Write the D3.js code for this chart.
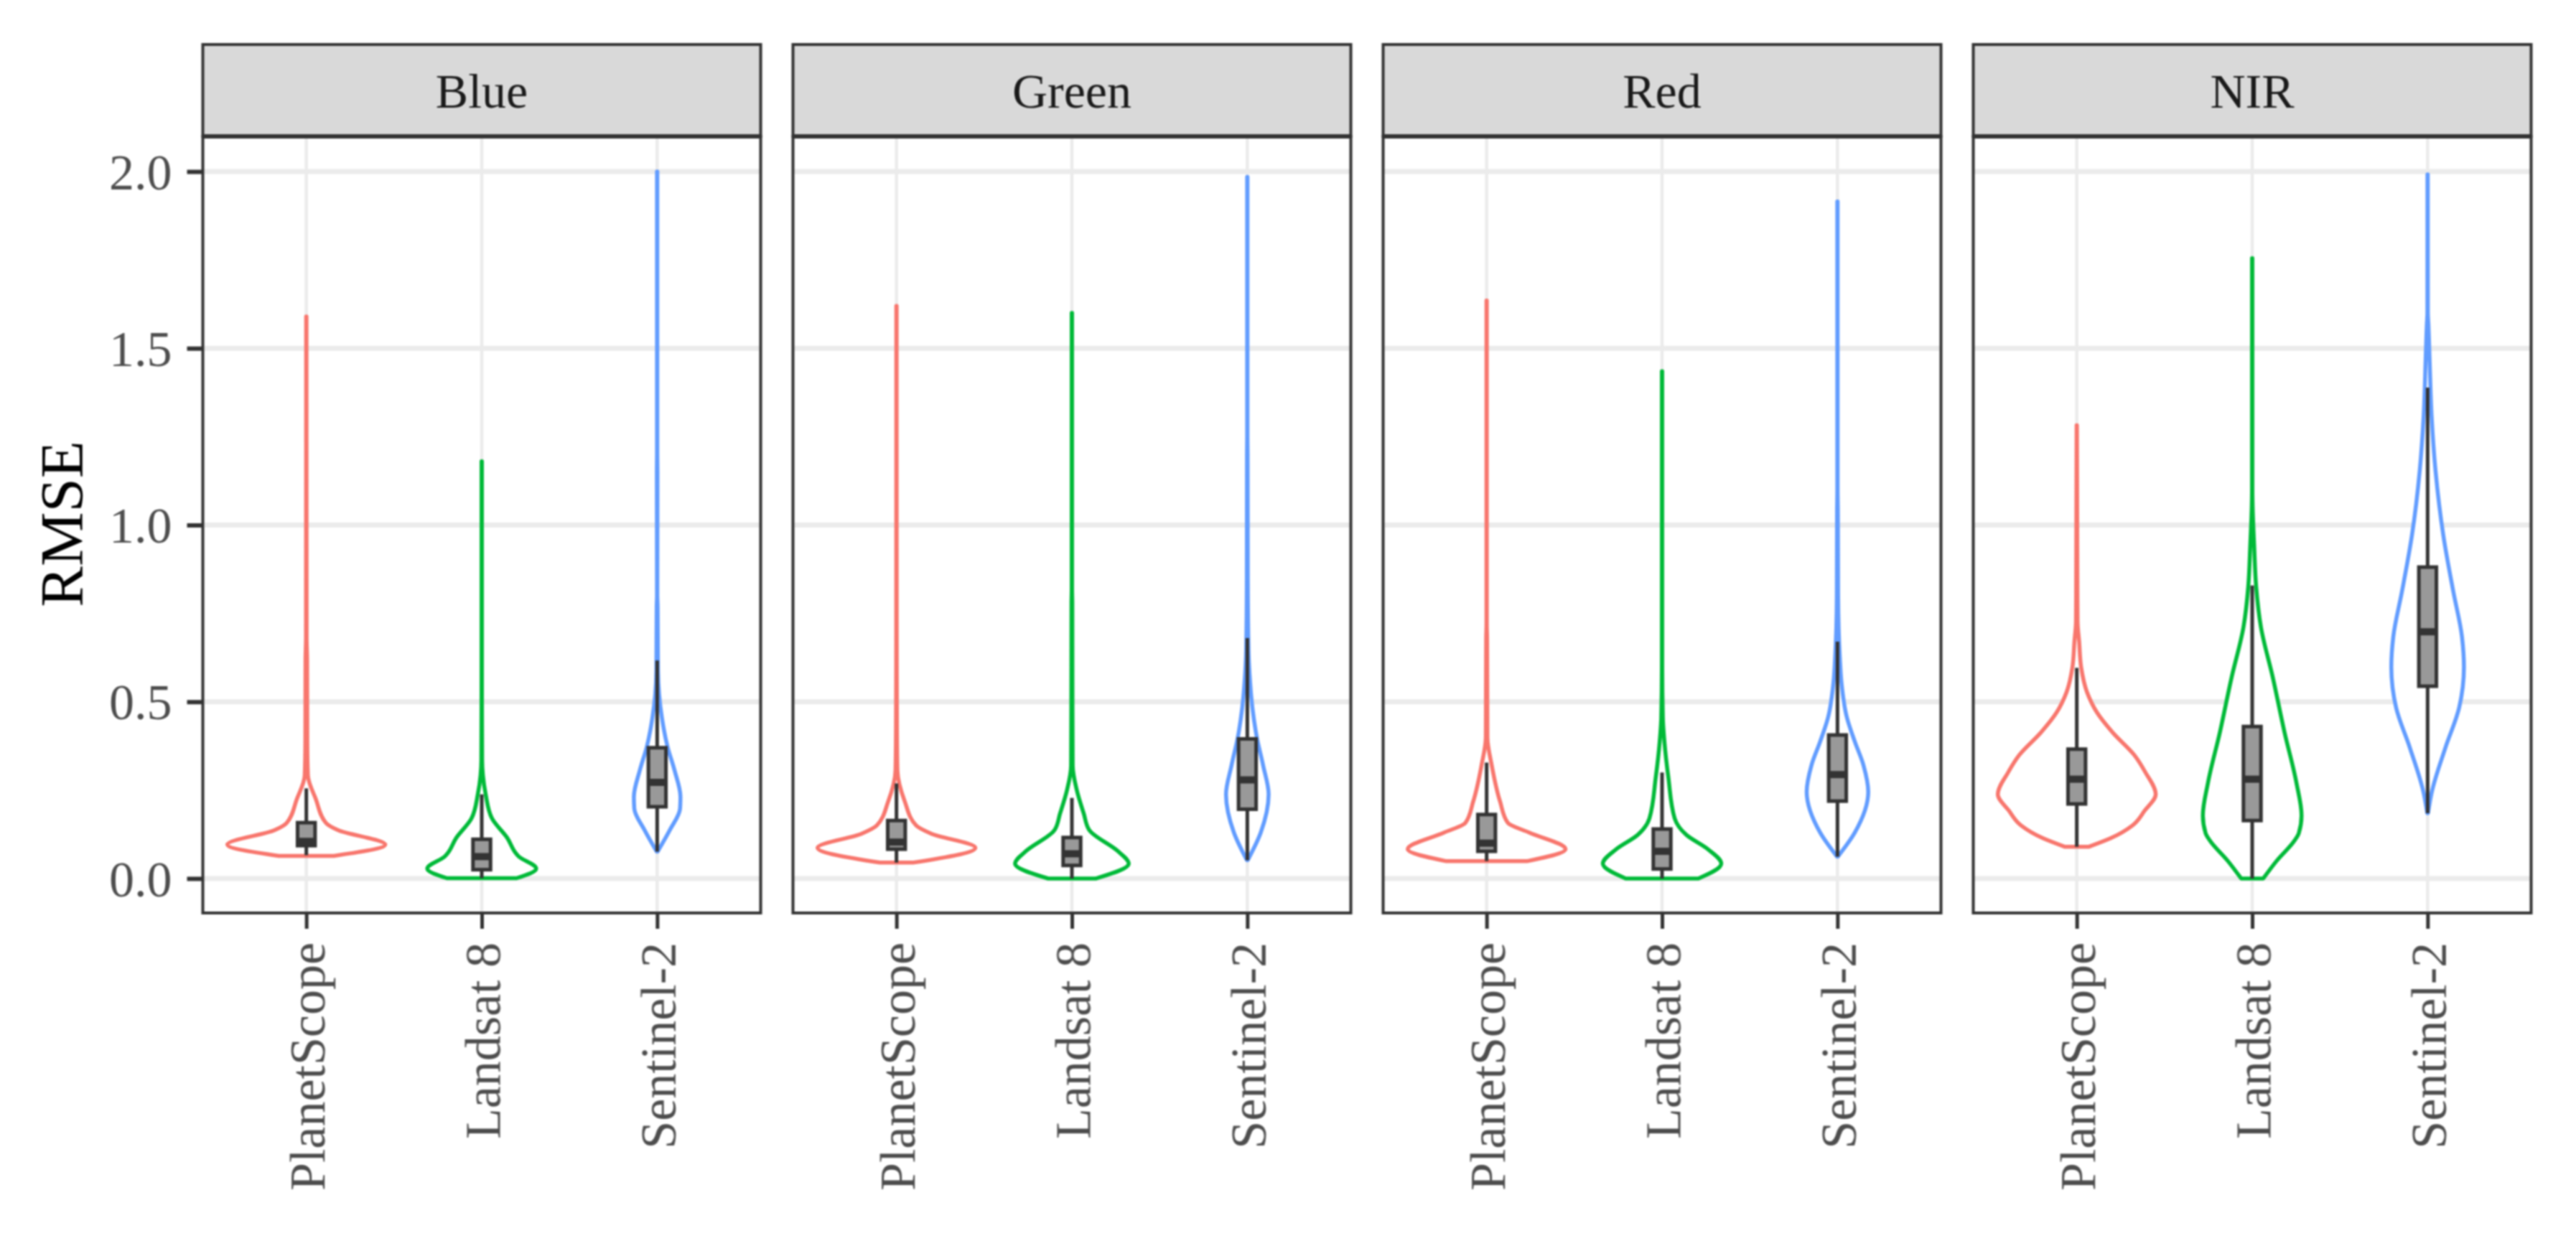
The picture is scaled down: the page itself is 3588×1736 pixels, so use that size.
<!DOCTYPE html>
<html lang="en">
<head>
    <meta charset="UTF-8">
    <title>RMSE violins</title>
    <script src="https://d3js.org/d3.v7.min.js"></script>
    <style>
        body { margin: 0; padding: 0; background: #fff; }
        svg { filter: blur(0.9px); }
        text { font-family: "Liberation Serif", serif; }
        .tick-label { fill: #4d4d4d; font-size: 70px; }
    </style>
</head>
<body>
<svg width="3588" height="1736"></svg>
<script>
    var bands = ['Blue', 'Green', 'Red', 'NIR'];
    var sensors = ['PlanetScope', 'Landsat 8', 'Sentinel-2'];
    var yTicks = [0, 0.5, 1, 1.5, 2];
    var colors = ['#F8766D', '#00BA38', '#619CFF'];

    // violin outlines: [rmse, relative density]
    var bluePlanet = [[.064,.35],[.096,1],[.137,.4],[.157,.25],[.225,.12],[.292,.02],[.39,.012],[.62,.01],[.68,.004],[1.59,.002]];
    var blueLandsat = [[.001,.44],[.028,.69],[.062,.47],[.116,.32],[.17,.13],[.238,.05],[.292,.015],[.333,.005],[.6,.002],[1.18,.002]];
    var blueSentinel = [[.076,.005],[.137,.16],[.198,.29],[.231,.295],[.306,.22],[.374,.13],[.455,.06],[.52,.025],[.59,.01],[.77,.006],[.8,.002],[1.15,.004],[1.2,.002],[2,.002]];

    var greenPlanet = [[.045,.21],[.087,1],[.127,.44],[.15,.25],[.218,.105],[.306,.012],[.42,.006],[.7,.003],[1.62,.002]];
    var greenLandsat = [[0,.3],[.042,.72],[.076,.59],[.137,.22],[.184,.15],[.252,.06],[.32,.01],[.6,.006],[.78,.005],[.82,.002],[1.6,.002]];
    var greenSentinel = [[.052,.005],[.13,.17],[.238,.27],[.32,.2],[.4,.12],[.482,.065],[.556,.035],[.644,.015],[.85,.006],[1.2,.004],[1.25,.002],[1.985,.002]];

    var redPlanet = [[.049,.51],[.083,1],[.13,.54],[.157,.27],[.218,.17],[.32,.065],[.4,.01],[.68,.006],[.72,.002],[1.635,.002]];
    var redLandsat = [[0,.46],[.042,.75],[.083,.58],[.123,.31],[.17,.16],[.286,.08],[.387,.03],[.455,.01],[.6,.002],[1.435,.002]];
    var redSentinel = [[.062,.005],[.13,.22],[.245,.39],[.32,.33],[.387,.22],[.455,.12],[.556,.05],[.624,.03],[.8,.008],[1.04,.005],[1.1,.002],[1.915,.002]];

    var nirPlanet = [[.09,.155],[.114,.43],[.15,.705],[.192,.86],[.238,1],[.3,.87],[.349,.73],[.413,.455],[.47,.255],[.527,.13],[.598,.055],[.67,.03],[.727,.01],[.8,.008],[1.282,.002]];
    var nirLandsat = [[0,.14],[.05,.31],[.107,.535],[.128,.59],[.178,.625],[.271,.56],[.413,.41],[.57,.26],[.712,.11],[.826,.05],[.94,.025],[1.054,.005],[1.1,.002],[1.755,.002]];
    var nirSentinel = [[.185,.005],[.242,.05],[.37,.225],[.484,.4],[.598,.46],[.684,.435],[.812,.325],[.969,.2],[1.154,.1],[1.31,.05],[1.468,.025],[1.567,.01],[1.6,.003],[1.992,.002]];

    // boxes: [whisker low, q1, median, q3, whisker high]
    var blueBoxes = [[.066,.093,.105,.158,.255],[.001,.025,.062,.111,.238],[.076,.203,.272,.37,.617]];
    var greenBoxes = [[.045,.083,.103,.164,.269],[0,.037,.07,.116,.228],[.052,.196,.279,.395,.68]];
    var redBoxes = [[.049,.077,.1,.181,.328],[0,.027,.077,.14,.3],[.062,.219,.294,.406,.67]];
    var nirBoxes = [[.09,.211,.281,.366,.596],[0,.164,.281,.43,.829],[.185,.544,.698,.881,1.389]];

    var violins = [
        [bluePlanet, blueLandsat, blueSentinel],
        [greenPlanet, greenLandsat, greenSentinel],
        [redPlanet, redLandsat, redSentinel],
        [nirPlanet, nirLandsat, nirSentinel]
    ];
    var boxes = [blueBoxes, greenBoxes, redBoxes, nirBoxes];

    var panelW = 777, panelStep = 822, panelX0 = 282.5;
    var stripTop = 62, panelTop = 190, panelBottom = 1272;

    var svg = d3.select('svg');

    var y = d3.scaleLinear().domain([0, 2]).range([1224, 239]);
    var x = d3.scalePoint().domain(sensors).range([0, panelW]).padding(0.59);
    var step = x.step();
    // widest violin is 0.45 of a category step each side
    var w = d3.scaleLinear().domain([0, 1]).range([0, step * 0.45]);

    bands.forEach(function (band, b) {
        var g = svg.append('g').attr('transform', 'translate(' + (panelX0 + b * panelStep) + ',0)');

        // grid
        g.selectAll('.hgrid').data(yTicks).enter().append('line')
            .attr('x1', 0).attr('x2', panelW)
            .attr('y1', function (d) { return y(d); })
            .attr('y2', function (d) { return y(d); })
            .style('stroke', '#ebebeb').style('stroke-width', 7);
        g.selectAll('.vgrid').data(sensors).enter().append('line')
            .attr('x1', function (d) { return x(d); })
            .attr('x2', function (d) { return x(d); })
            .attr('y1', panelTop).attr('y2', panelBottom)
            .style('stroke', '#ebebeb').style('stroke-width', 4.5);

        // violins
        sensors.forEach(function (s, i) {
            var area = d3.area()
                .curve(d3.curveMonotoneY)
                .y(function (d) { return y(d[0]); })
                .x0(function (d) { return x(s) - w(d[1]); })
                .x1(function (d) { return x(s) + w(d[1]); });
            g.append('path')
                .attr('d', area(violins[b][i]))
                .style('fill', '#fff')
                .style('stroke', colors[i])
                .style('stroke-width', 5.5)
                .style('stroke-linejoin', 'round');
        });

        // boxplots
        sensors.forEach(function (s, i) {
            var q = boxes[b][i];
            var bw = step * 0.1;
            g.append('line')
                .attr('x1', x(s)).attr('x2', x(s))
                .attr('y1', y(q[0])).attr('y2', y(q[4]))
                .style('stroke', '#333').style('stroke-width', 5);
            g.append('rect')
                .attr('x', x(s) - bw / 2).attr('width', bw)
                .attr('y', y(q[3])).attr('height', y(q[1]) - y(q[3]))
                .style('fill', '#999').style('stroke', '#333').style('stroke-width', 5);
            g.append('line')
                .attr('x1', x(s) - bw / 2).attr('x2', x(s) + bw / 2)
                .attr('y1', y(q[2])).attr('y2', y(q[2]))
                .style('stroke', '#333').style('stroke-width', 10);
        });

        // panel border
        g.append('rect')
            .attr('x', 0).attr('y', panelTop)
            .attr('width', panelW).attr('height', panelBottom - panelTop)
            .style('fill', 'none').style('stroke', '#333').style('stroke-width', 4);

        // strip
        g.append('rect')
            .attr('x', 0).attr('y', stripTop)
            .attr('width', panelW).attr('height', panelTop - stripTop)
            .style('fill', '#d9d9d9').style('stroke', '#333').style('stroke-width', 4);
        g.append('line')
            .attr('x1', 0).attr('x2', panelW)
            .attr('y1', panelTop).attr('y2', panelTop)
            .style('stroke', '#333').style('stroke-width', 6);
        g.append('text')
            .attr('x', panelW / 2).attr('y', 150)
            .attr('text-anchor', 'middle')
            .style('font-size', '68px').style('fill', '#1a1a1a')
            .text(band);

        // x axis
        var xAxis = g.append('g')
            .attr('transform', 'translate(0,' + panelBottom + ')')
            .call(d3.axisBottom(x).tickSize(22).tickPadding(0));
        xAxis.select('.domain').remove();
        xAxis.selectAll('line').style('stroke', '#333').style('stroke-width', 5);
        xAxis.selectAll('text')
            .attr('class', 'tick-label')
            .attr('transform', 'translate(25,41) rotate(-90)')
            .attr('x', 0).attr('y', 0).attr('dy', 0)
            .attr('text-anchor', 'end');

        // y axis, first panel only
        if (b === 0) {
            var yAxis = g.append('g')
                .call(d3.axisLeft(y).tickValues(yTicks).tickFormat(d3.format('.1f')).tickSize(22).tickPadding(21));
            yAxis.select('.domain').remove();
            yAxis.selectAll('line').style('stroke', '#333').style('stroke-width', 6);
            yAxis.selectAll('text')
                .attr('class', 'tick-label')
                .attr('dy', 24);
        }
    });

    svg.append('text')
        .attr('transform', 'translate(115,730) rotate(-90)')
        .attr('text-anchor', 'middle')
        .style('font-size', '85px').style('fill', '#000')
        .text('RMSE');
</script>
</body>
</html>
